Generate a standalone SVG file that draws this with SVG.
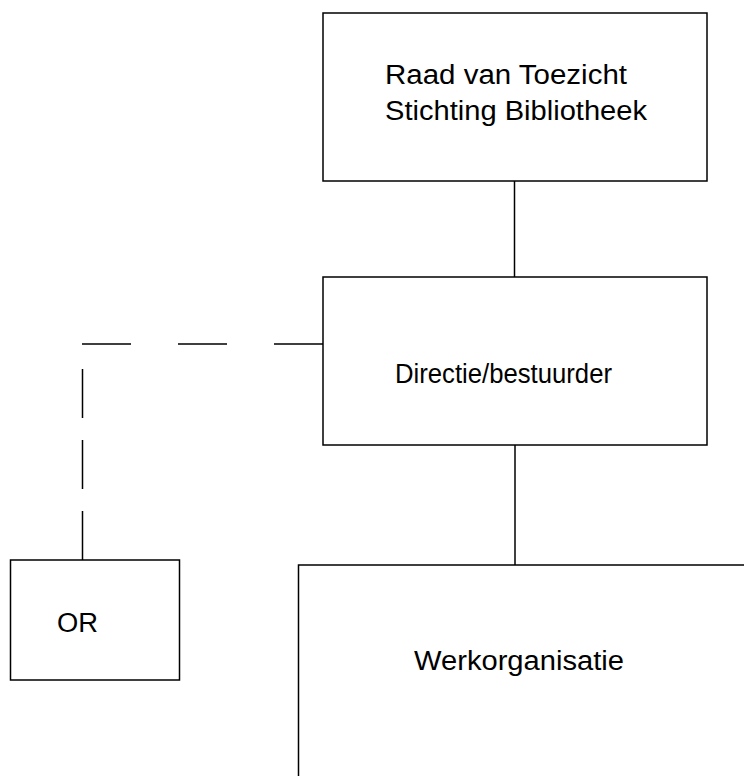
<svg xmlns="http://www.w3.org/2000/svg" width="744" height="776" viewBox="0 0 744 776">
<style>
.box{fill:#fff;stroke:#000;stroke-width:1.5}
.ln{fill:none;stroke:#000;stroke-width:1.5}
.t{font-family:"Liberation Sans",Arial,sans-serif;font-size:27px;fill:#000}
</style>
<rect width="744" height="776" fill="#fff"/>
<g id="connectors">
<line class="ln" x1="514.5" y1="181" x2="514.5" y2="277"/>
<line class="ln" x1="515" y1="445" x2="515" y2="565"/>
<line class="ln" x1="323" y1="344" x2="82" y2="344" stroke-dasharray="49 47"/>
<line class="ln" x1="82.5" y1="560" x2="82.5" y2="368" stroke-dasharray="49 22"/>
</g>
<g id="raad">
<rect class="box" x="323" y="13" width="384" height="168"/>
<text class="t" x="385" y="83.5" textLength="242" lengthAdjust="spacingAndGlyphs">Raad van Toezicht</text>
<text class="t" x="385" y="119.5" textLength="262" lengthAdjust="spacingAndGlyphs">Stichting Bibliotheek</text>
</g>
<g id="directie">
<rect class="box" x="323" y="277" width="384" height="168"/>
<text class="t" x="395" y="382.5" textLength="217" lengthAdjust="spacingAndGlyphs">Directie/bestuurder</text>
</g>
<g id="or">
<rect class="box" x="10.5" y="560" width="169" height="120"/>
<text class="t" x="57" y="632" textLength="41" lengthAdjust="spacingAndGlyphs">OR</text>
</g>
<g id="werkorganisatie">
<rect class="box" x="298.5" y="565" width="460" height="230"/>
<text class="t" x="414" y="670" textLength="210" lengthAdjust="spacingAndGlyphs">Werkorganisatie</text>
</g>
</svg>
